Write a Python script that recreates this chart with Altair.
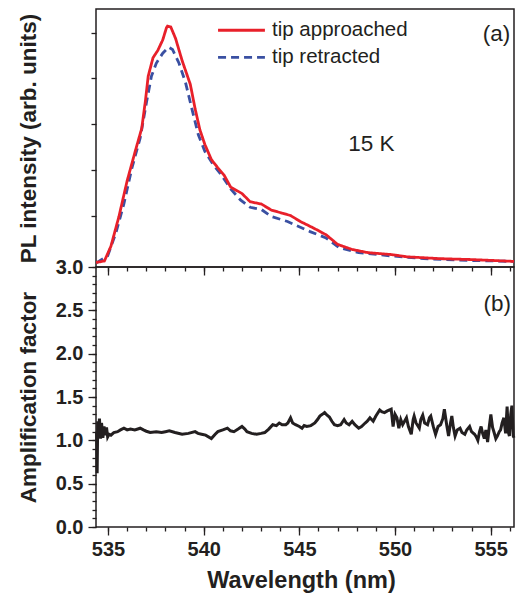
import altair as alt
import pandas as pd

# ---------------- data ----------------
wl_app = [534.37, 534.43, 534.81, 535.15, 535.57, 536.0, 536.42, 536.76, 536.95, 537.1, 537.35,
          537.6, 537.86, 538.05, 538.11, 538.28, 538.53, 538.87, 539.3, 539.55, 539.8, 540.06,
          540.4, 540.74, 541.08, 541.41, 542.0, 542.43, 543.02, 543.53, 544.12, 544.54, 545.05,
          545.73, 546.4, 547.0, 547.76, 548.6, 549.79, 550.63, 552.33, 554.02, 556.22]
pl_app = [-0.01, -0.01, 0.02, 0.34, 0.99, 1.77, 2.41, 2.91, 3.5, 4.05, 4.45,
          4.61, 4.84, 5.1, 5.14, 5.12, 4.87, 4.39, 3.87, 3.34, 2.88, 2.56,
          2.23, 2.05, 1.88, 1.63, 1.49, 1.31, 1.26, 1.13, 1.06, 1.01, 0.88,
          0.74, 0.59, 0.38, 0.27, 0.2, 0.16, 0.11, 0.07, 0.05, 0.01]

wl_ret = [534.37, 534.43, 534.98, 535.41, 535.83, 536.25, 536.68, 537.01, 537.27, 537.52,
          537.86, 538.16, 538.37, 538.71, 539.05, 539.38, 539.72, 540.06, 540.48, 540.9,
          541.41, 541.92, 542.43, 543.02, 543.53, 544.38, 545.56, 546.4, 547.08, 548.1,
          549.79, 551.5, 554.0, 556.22]
pl_ret = [-0.01, -0.01, 0.13, 0.63, 1.27, 2.05, 2.7, 3.48, 4.05, 4.33,
          4.55, 4.68, 4.63, 4.33, 3.91, 3.34, 2.77, 2.41, 2.13, 1.91,
          1.59, 1.35, 1.19, 1.14, 0.99, 0.88, 0.66, 0.52, 0.31, 0.2,
          0.13, 0.07, 0.03, 0.01]

wl_amp = [534.40, 534.43, 534.46, 534.50, 534.55, 534.61, 534.66, 534.73, 534.79, 534.85,
          534.92, 534.98, 535.05, 535.15, 535.3, 535.5, 535.65, 535.83, 536.0, 536.17,
          536.4, 536.68, 536.85, 537.0, 537.2, 537.52, 537.8, 538.0, 538.2, 538.5,
          538.87, 539.2, 539.55, 539.7, 539.89, 540.1, 540.4, 540.6, 540.74, 541.0,
          541.24, 541.4, 541.58, 541.8, 542.0, 542.15, 542.26, 542.5, 542.77, 543.0,
          543.19, 543.4, 543.61, 543.8, 543.95, 544.1, 544.29, 544.4, 544.54, 544.65,
          544.8, 545.0, 545.14, 545.25, 545.39, 545.6, 545.81, 545.95, 546.07, 546.2,
          546.32, 546.45, 546.57, 546.7, 546.83, 547.0, 547.16, 547.34, 547.45, 547.6,
          547.76, 547.9, 548.1, 548.25, 548.44, 548.55, 548.69, 548.86, 549.0, 549.2,
          549.3, 549.45, 549.6, 549.8, 549.9, 550.0, 550.1, 550.2, 550.3, 550.4,
          550.5, 550.6, 550.7, 550.85, 550.95, 551.0, 551.1, 551.27, 551.35, 551.45,
          551.55, 551.7, 551.8, 551.87, 552.0, 552.12, 552.25, 552.38, 552.5, 552.58,
          552.7, 552.8, 552.9, 552.97, 553.05, 553.14, 553.25, 553.4, 553.5, 553.65,
          553.75, 553.9, 554.0, 554.16, 554.25, 554.33, 554.42, 554.5, 554.58, 554.67,
          554.75, 554.84, 554.93, 555.01, 555.1, 555.18, 555.27, 555.35, 555.45, 555.52,
          555.6, 555.69, 555.78, 555.86, 555.92, 555.98, 556.05, 556.11, 556.18, 556.22]
amp = [1.10, 0.62, 1.22, 1.05, 1.25, 1.02, 1.20, 1.03, 1.16, 1.06,
       1.15, 1.04, 1.07, 1.06, 1.09, 1.10, 1.12, 1.14, 1.12, 1.13,
       1.12, 1.14, 1.12, 1.105, 1.09, 1.10, 1.09, 1.10, 1.11, 1.09,
       1.07, 1.08, 1.10, 1.08, 1.07, 1.06, 1.02, 1.07, 1.10, 1.12,
       1.14, 1.11, 1.10, 1.13, 1.16, 1.13, 1.10, 1.08, 1.07, 1.08,
       1.09, 1.13, 1.18, 1.17, 1.20, 1.18, 1.18, 1.20, 1.26, 1.20,
       1.18, 1.16, 1.14, 1.17, 1.16, 1.17, 1.20, 1.24, 1.28, 1.30,
       1.32, 1.29, 1.27, 1.22, 1.18, 1.17, 1.18, 1.24, 1.20, 1.18,
       1.22, 1.18, 1.14, 1.16, 1.20, 1.22, 1.26, 1.22, 1.28, 1.35,
       1.33, 1.32, 1.34, 1.36, 1.16, 1.30, 1.26, 1.14, 1.24, 1.18,
       1.22, 1.26, 1.16, 1.07, 1.24, 1.28, 1.20, 1.14, 1.24, 1.29,
       1.20, 1.18, 1.26, 1.28, 1.16, 1.07, 1.16, 1.18, 1.25, 1.36,
       1.18, 1.05, 1.20, 1.28, 1.15, 1.05, 1.12, 1.14, 1.09, 1.07,
       1.12, 1.16, 1.10, 1.07, 1.04, 1.00, 1.10, 1.16, 1.08, 1.02,
       1.12, 0.98, 1.16, 1.30, 1.15, 1.09, 1.02, 1.05, 1.10, 1.12,
       1.20, 1.26, 1.08, 1.39, 1.10, 1.05, 1.30, 1.40, 1.05, 1.03]

series_names = ["tip approached", "tip retracted"]
x_major = [535, 540, 545, 550, 555]
x_minor = list(range(535, 557))
top_y_ticks = [1, 2, 3, 4, 5]
amp_major = [0.0, 0.5, 1.0, 1.5, 2.0, 2.5, 3.0]
amp_minor = [round(i * 0.1, 1) for i in range(31)]

# legend rows (placed in data units of the top panel)
legend_y = [5.05, 4.46]
legend_x1 = [540.75, 540.75]
legend_x2 = [543.20, 543.20]
legend_xt = [543.57, 543.57]

ann_top_text = ["(a)", "15 K"]
ann_top_x = [555.3, 548.77]
ann_top_y = [4.96, 2.575]
ann_bot_text = ["(b)"]
ann_bot_x = [555.35]
ann_bot_y = [2.57]

# ---------------- styling ----------------
FONT = "Liberation Sans"
BLACK = "#231f20"
RED = "#e8202a"
BLUE = "#3a50a2"
W = 418
H_TOP = 258
H_BOT = 260
XDOM = [534.37, 556.22]
TOPDOM = [-0.112, 5.513]
BOTDOM = [0, 3]

df_pl = pd.concat([
    pd.DataFrame({"wl": wl_app, "pl": pl_app, "series": series_names[0]}),
    pd.DataFrame({"wl": wl_ret, "pl": pl_ret, "series": series_names[1]}),
])
df_amp = pd.DataFrame({"wl": wl_amp, "amp": amp})
df_leg = pd.DataFrame({"series": series_names, "y": legend_y, "x1": legend_x1,
                       "x2": legend_x2, "xt": legend_xt})
df_ann_top = pd.DataFrame({"t": ann_top_text, "x": ann_top_x, "y": ann_top_y})
df_ann_bot = pd.DataFrame({"t": ann_bot_text, "x": ann_bot_x, "y": ann_bot_y})

xs = alt.Scale(domain=XDOM, nice=False, zero=False)
ys_top = alt.Scale(domain=TOPDOM, nice=False, zero=False)
ys_bot = alt.Scale(domain=BOTDOM, nice=False, zero=False)


def ax(orient, values, size, labels=False, title=None, **kw):
    return alt.Axis(orient=orient, values=values, tickSize=size, labels=labels,
                    title=title, domain=False, grid=False, ticks=True, **kw)


color_enc = alt.Color("series:N", scale=alt.Scale(domain=series_names, range=[RED, BLUE]), legend=None)
dash_enc = alt.StrokeDash("series:N", scale=alt.Scale(domain=series_names, range=[[1, 0], [8, 5]]), legend=None)

base_top = alt.Chart(df_pl)

top_blue = base_top.transform_filter(alt.datum.series == series_names[1]).mark_line(strokeWidth=2.8).encode(
    x=alt.X("wl:Q", scale=xs, axis=ax("bottom", x_major, 8)),
    y=alt.Y("pl:Q", scale=ys_top,
            axis=ax("left", top_y_ticks, 5, title="PL intensity (arb. units)", titlePadding=50)),
    color=color_enc, strokeDash=dash_enc,
)
top_red = base_top.transform_filter(alt.datum.series == series_names[0]).mark_line(strokeWidth=2.8).encode(
    x=alt.X("wl:Q", scale=xs, axis=ax("bottom", x_minor, 4)),
    y=alt.Y("pl:Q", scale=ys_top, axis=None),
    color=color_enc, strokeDash=dash_enc,
)
leg_rule = alt.Chart(df_leg).mark_rule(strokeWidth=2.8).encode(
    x=alt.X("x1:Q", scale=xs, axis=None),
    x2="x2:Q",
    y=alt.Y("y:Q", scale=ys_top, axis=None),
    color=color_enc, strokeDash=dash_enc,
)
leg_text = alt.Chart(df_leg).mark_text(font=FONT, fontSize=20.5, color=BLACK, align="left",
                                       baseline="middle").encode(
    x=alt.X("xt:Q", scale=xs, axis=None),
    y=alt.Y("y:Q", scale=ys_top, axis=None),
    text="series:N",
)
top_text = alt.Chart(df_ann_top).mark_text(font=FONT, fontSize=22.5, color=BLACK, baseline="middle").encode(
    x=alt.X("x:Q", scale=xs, axis=None),
    y=alt.Y("y:Q", scale=ys_top, axis=None),
    text="t:N",
)
top = alt.layer(top_blue, top_red, leg_rule, leg_text, top_text).resolve_axis(
    x="independent", y="independent").properties(width=W, height=H_TOP)

base_bot = alt.Chart(df_amp)
bot_line = base_bot.mark_line(strokeWidth=3, color=BLACK).encode(
    x=alt.X("wl:Q", scale=xs,
            axis=ax("bottom", x_major, 8, labels=True, title="Wavelength (nm)",
                    labelPadding=4, titlePadding=9, titleX=205)),
    y=alt.Y("amp:Q", scale=ys_bot,
            axis=ax("left", amp_major, 8, labels=True, title="Amplification factor",
                    format=".1f", labelPadding=5, titlePadding=15)),
)
bot_minor = base_bot.mark_line(opacity=0).encode(
    x=alt.X("wl:Q", scale=xs, axis=ax("bottom", x_minor, 4)),
    y=alt.Y("amp:Q", scale=ys_bot, axis=ax("left", amp_minor, 4)),
)
bot_text = alt.Chart(df_ann_bot).mark_text(font=FONT, fontSize=22.5, color=BLACK, baseline="middle").encode(
    x=alt.X("x:Q", scale=xs, axis=None),
    y=alt.Y("y:Q", scale=ys_bot, axis=None),
    text="t:N",
)
bot = alt.layer(bot_minor, bot_line, bot_text).resolve_axis(x="independent", y="independent").properties(
    width=W, height=H_BOT)

chart = alt.vconcat(top, bot, spacing=0, bounds="flush").properties(
    padding={"left": 8, "top": 0, "right": 0, "bottom": 0}
).configure_view(
    stroke=BLACK, strokeWidth=1.5
).configure_axis(
    tickColor=BLACK, tickWidth=1.3, labelColor=BLACK, titleColor=BLACK,
    labelFont=FONT, titleFont=FONT, labelFontSize=20, labelFontWeight="bold",
    titleFontSize=22.5, titleFontWeight="bold",
).configure_axisX(titleFontSize=23.5)

chart.save("out.html", embed_options={"renderer": "svg", "actions": False})
